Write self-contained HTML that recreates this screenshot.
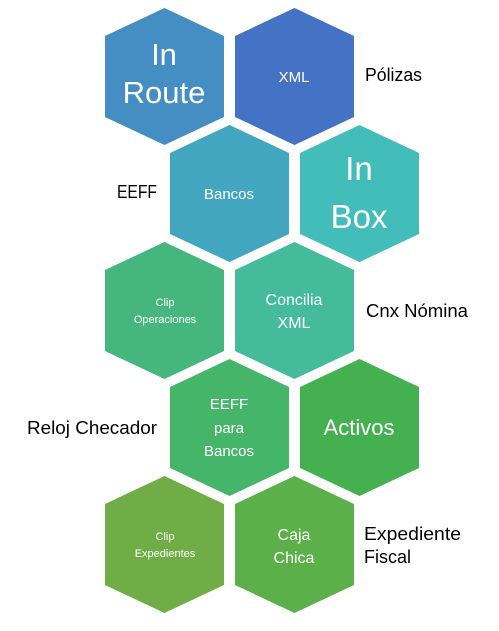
<!DOCTYPE html>
<html><head><meta charset="utf-8"><style>
html,body{margin:0;padding:0;background:#fff;}
svg{display:block;font-family:"Liberation Sans",sans-serif;}
</style></head><body>
<svg width="499" height="631" viewBox="0 0 499 631" xmlns="http://www.w3.org/2000/svg">
<g>
<polygon points="164.5,8 224,36 224,117 164.5,145 105,117 105,36" fill="#448EC4"/>
<polygon points="294.5,8 354,36 354,117 294.5,145 235,117 235,36" fill="#4472C4"/>
<polygon points="229.5,125 289,153 289,234 229.5,262 170,234 170,153" fill="#42A6C0"/>
<polygon points="359.5,125 419,153 419,234 359.5,262 300,234 300,153" fill="#43BDBA"/>
<polygon points="164.5,242 224,270 224,351 164.5,379 105,351 105,270" fill="#45B77E"/>
<polygon points="294.5,242 354,270 354,351 294.5,379 235,351 235,270" fill="#44BC9C"/>
<polygon points="229.5,359 289,387 289,468 229.5,496 170,468 170,387" fill="#45B56A"/>
<polygon points="359.5,359 419,387 419,468 359.5,496 300,468 300,387" fill="#44B04F"/>
<polygon points="164.5,476 224,504 224,585 164.5,613 105,585 105,504" fill="#70AD47"/>
<polygon points="294.5,476 354,504 354,585 294.5,613 235,585 235,504" fill="#5BB04A"/>
</g>
<g fill="#fff" text-anchor="middle">
<text x="164" y="65" font-size="31">In</text>
<text x="164" y="103" font-size="31">Route</text>
<text x="294" y="82" font-size="15">XML</text>
<text x="229" y="199" font-size="15">Bancos</text>
<text x="359" y="180" font-size="33">In</text>
<text x="359" y="228" font-size="33">Box</text>
<text x="165" y="306" font-size="11">Clip</text>
<text x="165" y="323" font-size="11">Operaciones</text>
<text x="294" y="305" font-size="16">Concilia</text>
<text x="294" y="328" font-size="16">XML</text>
<text x="229" y="409" font-size="15">EEFF</text>
<text x="229" y="433" font-size="15">para</text>
<text x="229" y="456" font-size="15">Bancos</text>
<text x="359" y="435" font-size="22">Activos</text>
<text x="165" y="540" font-size="11">Clip</text>
<text x="165" y="557" font-size="11">Expedientes</text>
<text x="294" y="540" font-size="16">Caja</text>
<text x="294" y="563" font-size="16">Chica</text>
</g>
<g fill="#000" font-size="18">
<text x="365" y="81" textLength="57" lengthAdjust="spacingAndGlyphs">Pólizas</text>
<text x="117" y="198" textLength="40" lengthAdjust="spacingAndGlyphs">EEFF</text>
<text x="366" y="317" textLength="102" lengthAdjust="spacingAndGlyphs">Cnx Nómina</text>
<text x="27" y="434" textLength="130" lengthAdjust="spacingAndGlyphs">Reloj Checador</text>
<text x="364" y="540" textLength="97" lengthAdjust="spacingAndGlyphs">Expediente</text>
<text x="364" y="563" textLength="47" lengthAdjust="spacingAndGlyphs">Fiscal</text>
</g>
</svg>
</body></html>
